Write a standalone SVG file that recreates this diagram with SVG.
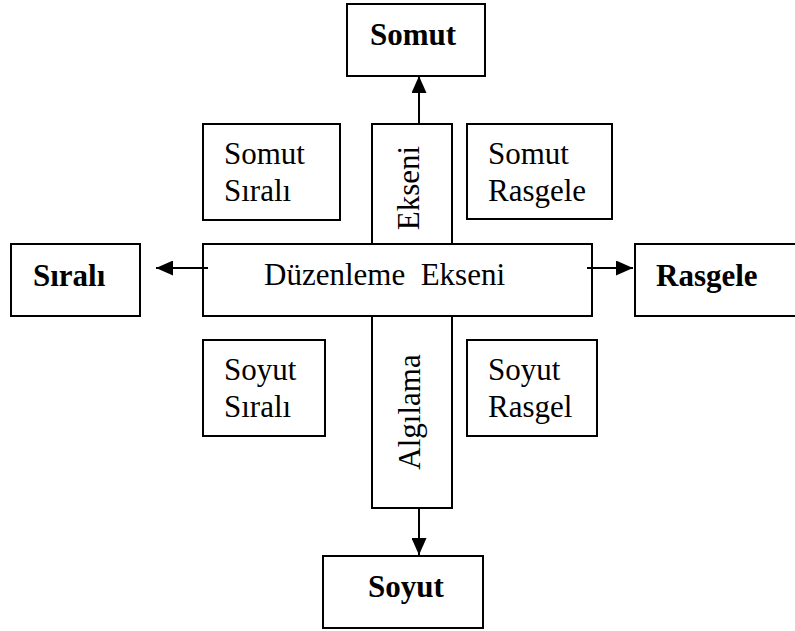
<svg xmlns="http://www.w3.org/2000/svg" width="795" height="631" viewBox="0 0 795 631">
<style>
  .box { fill: #ffffff; stroke: #000000; stroke-width: 2; }
  .t { font-family: "Liberation Serif", Tinos, "Times New Roman", Times, "DejaVu Serif", serif; font-size: 31px; fill: #000000; }
  .b { font-weight: bold; }
  .conn { stroke: #000000; stroke-width: 2; fill: none; marker-end: url(#arr); }
</style>
<defs>
  <marker id="arr" markerUnits="userSpaceOnUse" markerWidth="17" markerHeight="15" refX="17" refY="7.5" orient="auto">
    <path d="M0,0 L17,7.5 L0,15 z" fill="#000000"/>
  </marker>
</defs>
<rect width="795" height="631" fill="#ffffff"/>
<g id="vertical-axis">
  <rect class="box" x="372" y="124" width="80" height="384"/>
  <text class="t" font-family="Liberation Serif, serif" transform="translate(419,188) rotate(-90)" text-anchor="middle">Ekseni</text>
  <text class="t" font-family="Liberation Serif, serif" transform="translate(420,412) rotate(-90)" text-anchor="middle">Algılama</text>
</g>
<g id="horizontal-axis">
  <rect class="box" x="203" y="244" width="389" height="72"/>
  <text class="t" x="264" y="285" xml:space="preserve" style="white-space:pre">Düzenleme  Ekseni</text>
</g>
<g id="somut">
  <rect class="box" x="347" y="4" width="138" height="72"/>
  <text class="t b" x="370" y="45">Somut</text>
</g>
<g id="soyut">
  <rect class="box" x="323" y="556" width="160" height="72"/>
  <text class="t b" x="368" y="597">Soyut</text>
</g>
<g id="sirali">
  <rect class="box" x="11" y="244" width="129" height="72"/>
  <text class="t b" x="33" y="286">Sıralı</text>
</g>
<g id="rasgele">
  <rect class="box" x="635" y="244" width="162" height="72"/>
  <text class="t b" x="656" y="286">Rasgele</text>
</g>
<g id="somut-sirali">
  <rect class="box" x="203" y="124" width="137" height="96"/>
  <text class="t" x="224" y="164">Somut</text>
  <text class="t" x="224" y="201">Sıralı</text>
</g>
<g id="somut-rasgele">
  <rect class="box" x="467" y="124" width="145" height="95"/>
  <text class="t" x="488" y="164">Somut</text>
  <text class="t" x="488" y="201">Rasgele</text>
</g>
<g id="soyut-sirali">
  <rect class="box" x="203" y="340" width="122" height="96"/>
  <text class="t" x="224" y="380">Soyut</text>
  <text class="t" x="224" y="417">Sıralı</text>
</g>
<g id="soyut-rasgel">
  <rect class="box" x="467" y="340" width="130" height="96"/>
  <text class="t" x="488" y="380">Soyut</text>
  <text class="t" x="488" y="417">Rasgel</text>
</g>
<g id="connectors">
  <line class="conn" x1="419" y1="124" x2="419" y2="76"/>
  <line class="conn" x1="419" y1="508" x2="419" y2="555"/>
  <line class="conn" x1="208" y1="268" x2="156" y2="268"/>
  <line class="conn" x1="587" y1="268" x2="633" y2="268"/>
</g>
</svg>
